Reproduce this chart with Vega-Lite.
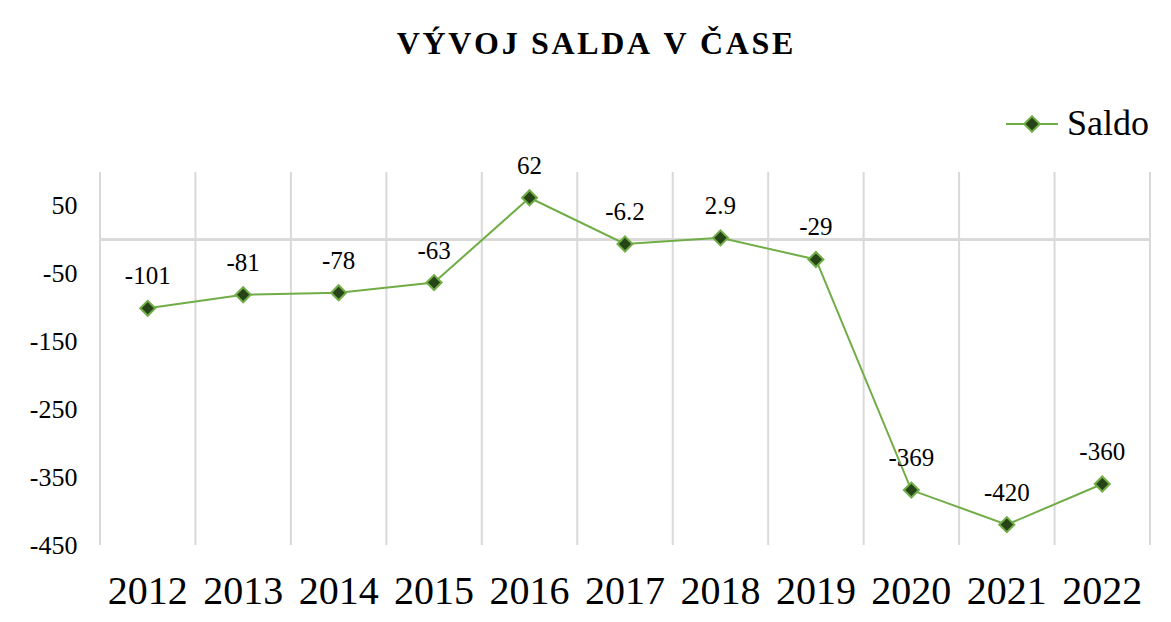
{
  "$schema": "https://vega.github.io/schema/vega-lite/v6.json",
  "width": 1050,
  "height": 373,
  "autosize": {"type": "none"},
  "padding": {"left": 100, "top": 172, "right": 21, "bottom": 77},
  "background": "#ffffff",
  "title": {
    "text": "V\u200aÝ\u200aV\u200aO\u200aJ\u200a \u200aS\u200aA\u200aL\u200aD\u200aA\u200a \u200aV\u200a \u200aČ\u200aA\u200aS\u200aE",
    "font": "Liberation Serif",
    "fontSize": 32,
    "fontWeight": "bold",
    "color": "#000000",
    "anchor": "middle",
    "frame": "group",
    "baseline": "alphabetic",
    "offset": 11,
    "dx": -30
  },
  "data": {
    "values": [
      {"year": "2012", "value": -101, "series": "Saldo"},
      {"year": "2013", "value": -81, "series": "Saldo"},
      {"year": "2014", "value": -78, "series": "Saldo"},
      {"year": "2015", "value": -63, "series": "Saldo"},
      {"year": "2016", "value": 62, "series": "Saldo"},
      {"year": "2017", "value": -6.2, "series": "Saldo"},
      {"year": "2018", "value": 2.9, "series": "Saldo"},
      {"year": "2019", "value": -29, "series": "Saldo"},
      {"year": "2020", "value": -369, "series": "Saldo"},
      {"year": "2021", "value": -420, "series": "Saldo"},
      {"year": "2022", "value": -360, "series": "Saldo"}
    ]
  },
  "layer": [
    {
      "mark": {"type": "rule", "color": "#d9d9d9", "strokeWidth": 2},
      "encoding": {
        "x": {"field": "year", "type": "ordinal", "bandPosition": 0,
              "scale": {"type": "band", "paddingInner": 0, "paddingOuter": 0},
              "axis": {"title": null}}
      }
    },
    {
      "transform": [{"filter": "datum.year == '2022'"}],
      "mark": {"type": "rule", "color": "#d9d9d9", "strokeWidth": 2},
      "encoding": {
        "x": {"field": "year", "type": "ordinal", "bandPosition": 1}
      }
    },
    {
      "mark": {"type": "rule", "color": "#d9d9d9", "strokeWidth": 2},
      "encoding": {
        "y": {"datum": 0, "type": "quantitative"}
      }
    },
    {
      "mark": {"type": "line", "strokeWidth": 2},
      "encoding": {
        "x": {"field": "year", "type": "ordinal"},
        "y": {"field": "value", "type": "quantitative",
              "scale": {"domain": [-450, 100], "nice": false, "zero": false},
              "axis": {"title": null, "values": [50, -50, -150, -250, -350, -450], "labelExpr": "'' + datum.value"}},
        "color": {
          "field": "series", "type": "nominal",
          "scale": {"range": ["#70ad47"]},
          "legend": {
            "title": null,
            "orient": "none",
            "legendX": 905,
            "legendY": -75,
            "labelFont": "Liberation Serif",
            "labelFontSize": 36,
            "labelColor": "#000000",
            "labelOffset": 8,
            "symbolSize": 2704,
            "symbolStrokeWidth": 2,
            "symbolType": "M-1,0H-0.3M0.3,0H1M0,-0.3L0.3,0L0,0.3L-0.3,0Z",
            "encode": {
              "symbols": {
                "update": {
                  "fill": {"value": "#264417"},
                  "stroke": {"value": "#70ad47"},
                  "strokeWidth": {"value": 2},
                  "opacity": {"value": 1}
                }
              }
            }
          }
        }
      }
    },
    {
      "mark": {"type": "point", "shape": "diamond", "filled": true, "fill": "#264417", "stroke": "#70ad47", "strokeWidth": 2, "size": 225, "opacity": 1},
      "encoding": {
        "x": {"field": "year", "type": "ordinal"},
        "y": {"field": "value", "type": "quantitative"}
      }
    },
    {
      "mark": {"type": "text", "font": "Liberation Serif", "fontSize": 25, "color": "#000000", "baseline": "alphabetic", "dy": -24},
      "encoding": {
        "x": {"field": "year", "type": "ordinal"},
        "y": {"field": "value", "type": "quantitative"},
        "text": {"field": "value", "type": "nominal"}
      }
    }
  ],
  "config": {
    "view": {"stroke": null},
    "axis": {"grid": false, "domain": false, "ticks": false, "labelFont": "Liberation Serif", "labelColor": "#000000"},
    "axisX": {"labelFontSize": 40, "labelAngle": 0, "labelBaseline": "alphabetic", "labelPadding": 58},
    "axisY": {"labelFontSize": 26, "labelPadding": 23}
  }
}
